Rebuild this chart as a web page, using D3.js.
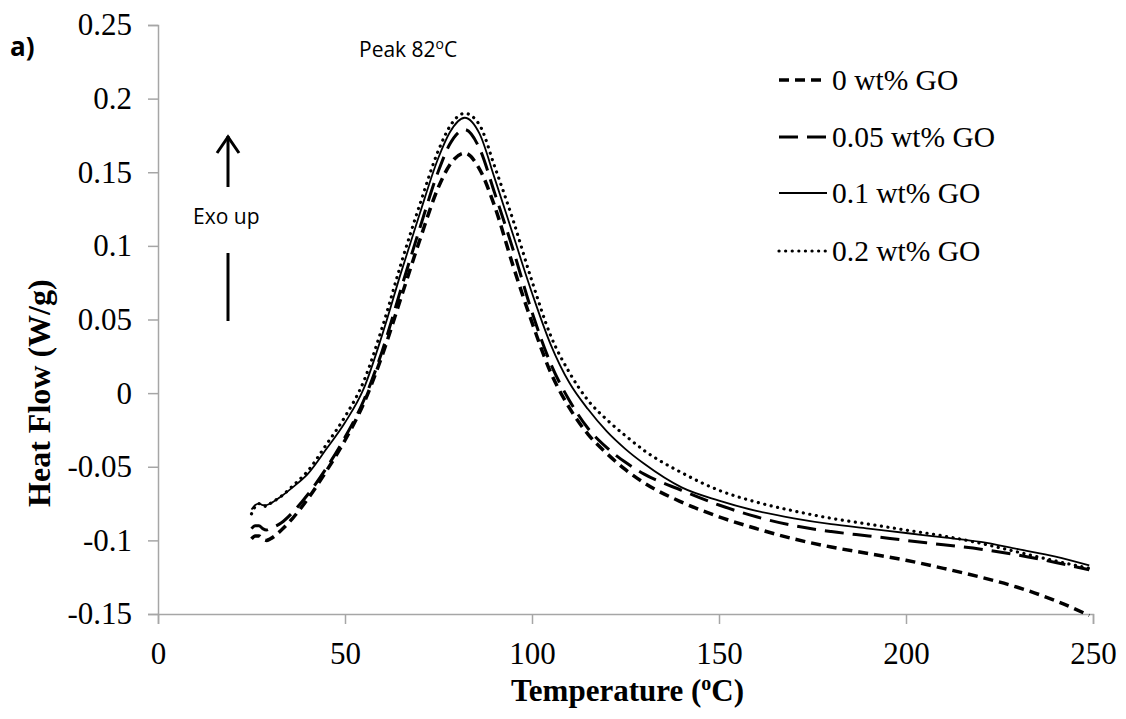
<!DOCTYPE html>
<html>
<head>
<meta charset="utf-8">
<script src="https://cdn.jsdelivr.net/npm/d3@7"></script>
<style>
  body { margin: 0; background: #fff; }
  .tick text { font-family: "Liberation Serif", "Times New Roman", serif; font-size: 31px; fill: #000; }
  .axis path, .axis line { stroke: #a6a6a6; stroke-width: 1.5; }
</style>
</head>
<body>
<div id="chart"></div>
<script>
const width = 1126;
const height = 719;
const margins = { top: 25, left: 158, bottom: 105, right: 33 };

// temperature (°C) sample points shared by all four curves
const temps = [25, 26, 27, 28, 29, 30, 33, 36, 40, 45, 50, 55, 60, 65, 70, 75, 78, 82, 86, 90, 95, 100,
    105, 110, 115, 120, 125, 130, 140, 150, 160, 170, 180, 190, 200, 210, 220, 230, 240, 249];

// heat flow (W/g)
const go0 = [-0.099, -0.097, -0.097, -0.099, -0.100, -0.099, -0.093, -0.085, -0.072, -0.053, -0.032, -0.007,
    0.026, 0.065, 0.104, 0.140, 0.155, 0.163, 0.152, 0.127, 0.086, 0.048, 0.014, -0.010, -0.028, -0.041,
    -0.052, -0.061, -0.074, -0.084, -0.092, -0.099, -0.1045, -0.109, -0.1135, -0.119, -0.125, -0.132, -0.141, -0.151];
const go005 = [-0.092, -0.090, -0.090, -0.092, -0.093, -0.092, -0.088, -0.081, -0.069, -0.051, -0.030, -0.005,
    0.029, 0.071, 0.112, 0.151, 0.169, 0.179, 0.166, 0.136, 0.097, 0.055, 0.020, -0.005, -0.024, -0.037,
    -0.047, -0.055, -0.066, -0.076, -0.084, -0.090, -0.094, -0.097, -0.100, -0.103, -0.106, -0.110, -0.115, -0.120];
const go01 = [-0.079, -0.076, -0.075, -0.076, -0.076, -0.075, -0.070, -0.064, -0.055, -0.038, -0.020, 0.003,
    0.040, 0.082, 0.122, 0.160, 0.177, 0.187, 0.176, 0.146, 0.107, 0.068, 0.033, 0.007, -0.011, -0.026,
    -0.038, -0.048, -0.064, -0.073, -0.080, -0.085, -0.089, -0.092, -0.095, -0.098, -0.101, -0.106, -0.111, -0.117];
const go02 = [-0.082, -0.077, -0.075, -0.076, -0.077, -0.075, -0.070, -0.063, -0.053, -0.035, -0.016, 0.008,
    0.045, 0.088, 0.128, 0.165, 0.181, 0.190, 0.182, 0.154, 0.117, 0.076, 0.039, 0.014, -0.005, -0.018,
    -0.029, -0.039, -0.054, -0.066, -0.074, -0.080, -0.085, -0.089, -0.093, -0.097, -0.102, -0.108, -0.114, -0.119];

const seriesNames = ['0 wt% GO', '0.05 wt% GO', '0.1 wt% GO', '0.2 wt% GO'];
const seriesValues = [go0, go005, go01, go02];
const xTicks = [0, 50, 100, 150, 200, 250];
const yTicks = [0.25, 0.2, 0.15, 0.1, 0.05, 0, -0.05, -0.1, -0.15];

// line look per series: width, dash pattern, cap
const lineStyles = [
    { w: 3.5, dash: '10,6', cap: 'butt' },
    { w: 3, dash: '19,9', cap: 'butt' },
    { w: 1.8, dash: null, cap: 'butt' },
    { w: 3.2, dash: '0.1,6.5', cap: 'round' }
];

const plotW = width - margins.left - margins.right;
const plotH = height - margins.top - margins.bottom;

const svg = d3.select('#chart')
    .append('svg')
    .attr('width', width)
    .attr('height', height)
    .style('font-family', '"Liberation Serif", serif');

const g = svg.append('g')
    .attr('transform', `translate(${margins.left},${margins.top})`);

const x = d3.scaleLinear().domain([0, 250]).range([0, plotW]);
const y = d3.scaleLinear().domain([-0.15, 0.25]).range([plotH, 0]);

// y-axis
g.append('g')
    .attr('class', 'axis')
    .call(d3.axisLeft(y).tickValues(yTicks).tickSize(10).tickPadding(16)
        .tickFormat(d => d === 0 ? '0' : String(d)));

// x-axis
g.append('g')
    .attr('class', 'axis')
    .attr('transform', `translate(0,${plotH})`)
    .call(d3.axisBottom(x).tickValues(xTicks).tickSize(10).tickPadding(18));

// curves
const line = d3.line()
    .x(d => x(d[0]))
    .y(d => y(d[1]))
    .curve(d3.curveMonotoneX);

seriesValues.forEach((vals, i) => {
    const st = lineStyles[i];
    g.append('path')
        .datum(temps.map((t, k) => [t, vals[k]]))
        .attr('fill', 'none')
        .attr('stroke', '#000')
        .attr('stroke-width', st.w)
        .attr('stroke-linecap', st.cap)
        .attr('stroke-dasharray', st.dash)
        .attr('d', line);
});

// legend
const legend = svg.append('g');
const legendY = [80, 137, 193, 251];
seriesNames.forEach((name, i) => {
    const st = lineStyles[i];
    legend.append('line')
        .attr('x1', 779).attr('x2', 827)
        .attr('y1', legendY[i]).attr('y2', legendY[i])
        .attr('stroke', '#000')
        .attr('stroke-width', st.w)
        .attr('stroke-linecap', st.cap)
        .attr('stroke-dasharray', st.dash);
    legend.append('text')
        .attr('x', 832)
        .attr('y', legendY[i] + 10)
        .style('font-size', '29.5px')
        .text(name);
});

// axis titles
const xTitle = svg.append('text')
    .attr('x', margins.left + x(125) + 2)
    .attr('y', 701)
    .attr('text-anchor', 'middle')
    .style('font-size', '31px')
    .style('font-weight', 'bold');
xTitle.append('tspan').text('Temperature (');
xTitle.append('tspan').attr('dy', -11).style('font-size', '20px').text('o');
xTitle.append('tspan').attr('dy', 11).text('C)');

svg.append('text')
    .attr('transform', `translate(50,${margins.top + y(0)}) rotate(-90)`)
    .attr('text-anchor', 'middle')
    .style('font-size', '32px')
    .style('font-weight', 'bold')
    .text('Heat Flow (W/g)');

// annotations
const sans = '"Open Sans", "Liberation Sans", sans-serif';
svg.append('text')
    .attr('x', 10).attr('y', 56)
    .style('font-family', sans)
    .style('font-size', '26px')
    .style('font-weight', 'bold')
    .text('a)');

const peak = svg.append('text')
    .attr('x', 359).attr('y', 57)
    .style('font-family', sans)
    .style('font-size', '21px');
peak.append('tspan').text('Peak 82');
peak.append('tspan').attr('dy', -8).style('font-size', '14px').text('o');
peak.append('tspan').attr('dy', 8).text('C');

svg.append('text')
    .attr('x', 193).attr('y', 224)
    .style('font-family', sans)
    .style('font-size', '21px')
    .text('Exo up');

// exo-up arrow
const arrow = svg.append('g').attr('stroke', '#000').attr('stroke-width', 3).attr('fill', 'none');
arrow.append('line').attr('x1', 228).attr('x2', 228).attr('y1', 136).attr('y2', 187);
arrow.append('path').attr('d', 'M217,153 L228,137 L239,153');
arrow.append('line').attr('x1', 228).attr('x2', 228).attr('y1', 253).attr('y2', 321);
</script>
</body>
</html>
